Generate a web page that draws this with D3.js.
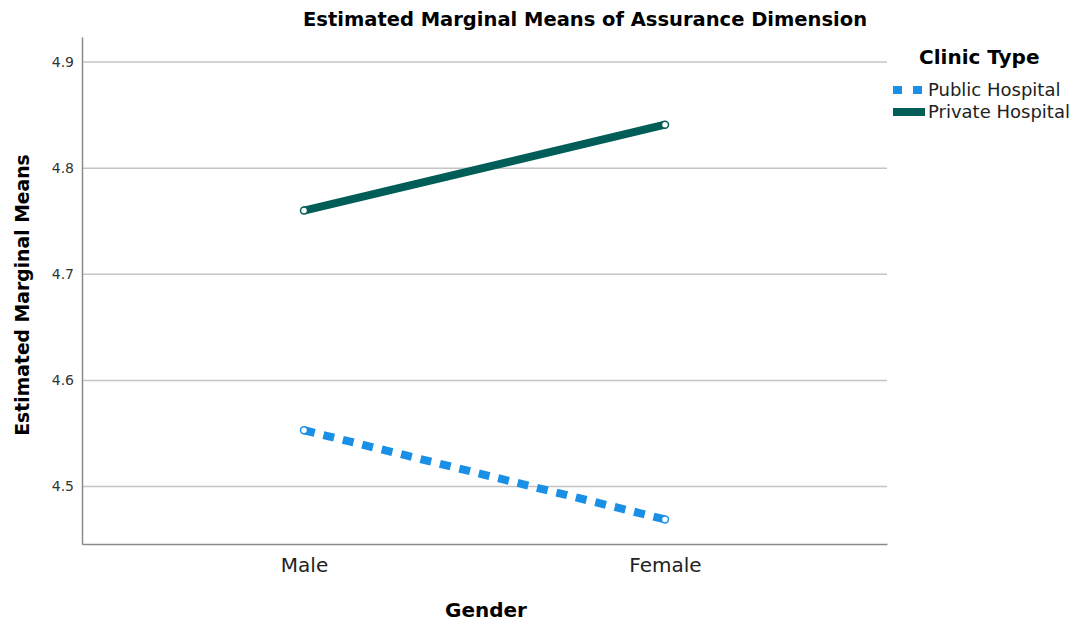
<!DOCTYPE html>
<html lang="en">
<head>
    <meta charset="UTF-8">
    <title>Estimated Marginal Means of Assurance Dimension</title>
    <script src="https://cdnjs.cloudflare.com/ajax/libs/d3/7.8.5/d3.min.js"></script>
    <style>
        body { margin: 0; background: #fff; }
        text { font-family: "DejaVu Sans", sans-serif; }
    </style>
</head>
<body>
    <div id="wrapper"></div>
    <script>
        // data
        const genders = ['Male', 'Female']
        const publicHospital = [4.553, 4.469]
        const privateHospital = [4.760, 4.841]
        const seriesNames = ['Public Hospital', 'Private Hospital']
        const yTicks = [4.5, 4.6, 4.7, 4.8, 4.9]

        function drawChart() {
            const dimensions = {
                width: 1073,
                height: 624,
                margin: { top: 37, right: 186, bottom: 80, left: 82 }
            }
            dimensions.boundedWidth = dimensions.width - dimensions.margin.left - dimensions.margin.right
            dimensions.boundedHeight = dimensions.height - dimensions.margin.top - dimensions.margin.bottom

            const svg = d3.select('#wrapper')
                .append('svg')
                    .attr('width', dimensions.width)
                    .attr('height', dimensions.height)

            const bounds = svg.append('g')
                .attr('transform', `translate(${dimensions.margin.left},${dimensions.margin.top})`)

            const xScale = d3.scalePoint()
                .domain(genders)
                .range([0, dimensions.boundedWidth])
                .padding(0.615)

            const yScale = d3.scaleLinear()
                .domain([4.4458, 4.9236])
                .range([dimensions.boundedHeight, 0])

            // gridlines
            bounds.append('g')
                .selectAll('line')
                .data(yTicks)
                .join('line')
                    .attr('x1', 0)
                    .attr('x2', dimensions.boundedWidth)
                    .attr('y1', d => yScale(d))
                    .attr('y2', d => yScale(d))
                    .attr('stroke', '#c4c4c4')
                    .attr('stroke-width', 1.5)

            // axes
            const yAxis = bounds.append('g')
                .call(d3.axisLeft(yScale).tickValues(yTicks).tickSize(0).tickPadding(8).tickFormat(d3.format('.1f')))
            yAxis.select('.domain').attr('stroke', '#8a8a8a').attr('stroke-width', 1.5)
            yAxis.selectAll('text').attr('font-size', 14).attr('fill', '#333')

            const xAxis = bounds.append('g')
                .attr('transform', `translate(0,${dimensions.boundedHeight})`)
                .call(d3.axisBottom(xScale).tickSize(0).tickPadding(14))
            xAxis.select('.domain').attr('stroke', '#8a8a8a').attr('stroke-width', 1.5)
            xAxis.selectAll('text').attr('font-size', 20).attr('fill', '#222')

            // lines
            const series = [
                { name: seriesNames[0], values: publicHospital, color: '#1a8fe6', dash: '11,9' },
                { name: seriesNames[1], values: privateHospital, color: '#005d57', dash: null }
            ]
            const lineGenerator = d3.line()
                .x((d, i) => xScale(genders[i]))
                .y(d => yScale(d))

            series.forEach(s => {
                bounds.append('path')
                    .datum(s.values)
                    .attr('d', lineGenerator)
                    .attr('fill', 'none')
                    .attr('stroke', s.color)
                    .attr('stroke-width', 8)
                    .attr('stroke-dasharray', s.dash)

                bounds.append('g')
                    .selectAll('circle')
                    .data(s.values)
                    .join('circle')
                        .attr('cx', (d, i) => xScale(genders[i]))
                        .attr('cy', d => yScale(d))
                        .attr('r', 3.5)
                        .attr('fill', '#fff')
                        .attr('stroke', s.color)
                        .attr('stroke-width', 1.5)
            })

            // titles
            svg.append('text')
                .attr('x', 585)
                .attr('y', 26)
                .attr('text-anchor', 'middle')
                .attr('font-size', 19.5)
                .attr('font-weight', 'bold')
                .text('Estimated Marginal Means of Assurance Dimension')

            svg.append('text')
                .attr('x', 486)
                .attr('y', 617)
                .attr('text-anchor', 'middle')
                .attr('font-size', 20)
                .attr('font-weight', 'bold')
                .text('Gender')

            svg.append('text')
                .attr('transform', 'translate(29,295) rotate(-90)')
                .attr('text-anchor', 'middle')
                .attr('font-size', 18.8)
                .attr('font-weight', 'bold')
                .text('Estimated Marginal Means')

            // legend
            const legend = svg.append('g')
                .attr('transform', 'translate(891,0)')
            legend.append('text')
                .attr('x', 28)
                .attr('y', 64)
                .attr('font-size', 20)
                .attr('font-weight', 'bold')
                .text('Clinic Type')

            const items = legend.selectAll('g.item')
                .data(series)
                .join('g')
                    .attr('class', 'item')
                    .attr('transform', (d, i) => `translate(0,${90 + i * 22})`)
            items.append('line')
                .attr('x1', 2)
                .attr('x2', 34)
                .attr('stroke', d => d.color)
                .attr('stroke-width', 8)
                .attr('stroke-dasharray', d => d.dash ? '9,11' : null)
            items.append('text')
                .attr('x', 37)
                .attr('dy', '0.35em')
                .attr('font-size', 18)
                .attr('fill', '#222')
                .text(d => d.name)
        }

        drawChart()
    </script>
</body>
</html>
